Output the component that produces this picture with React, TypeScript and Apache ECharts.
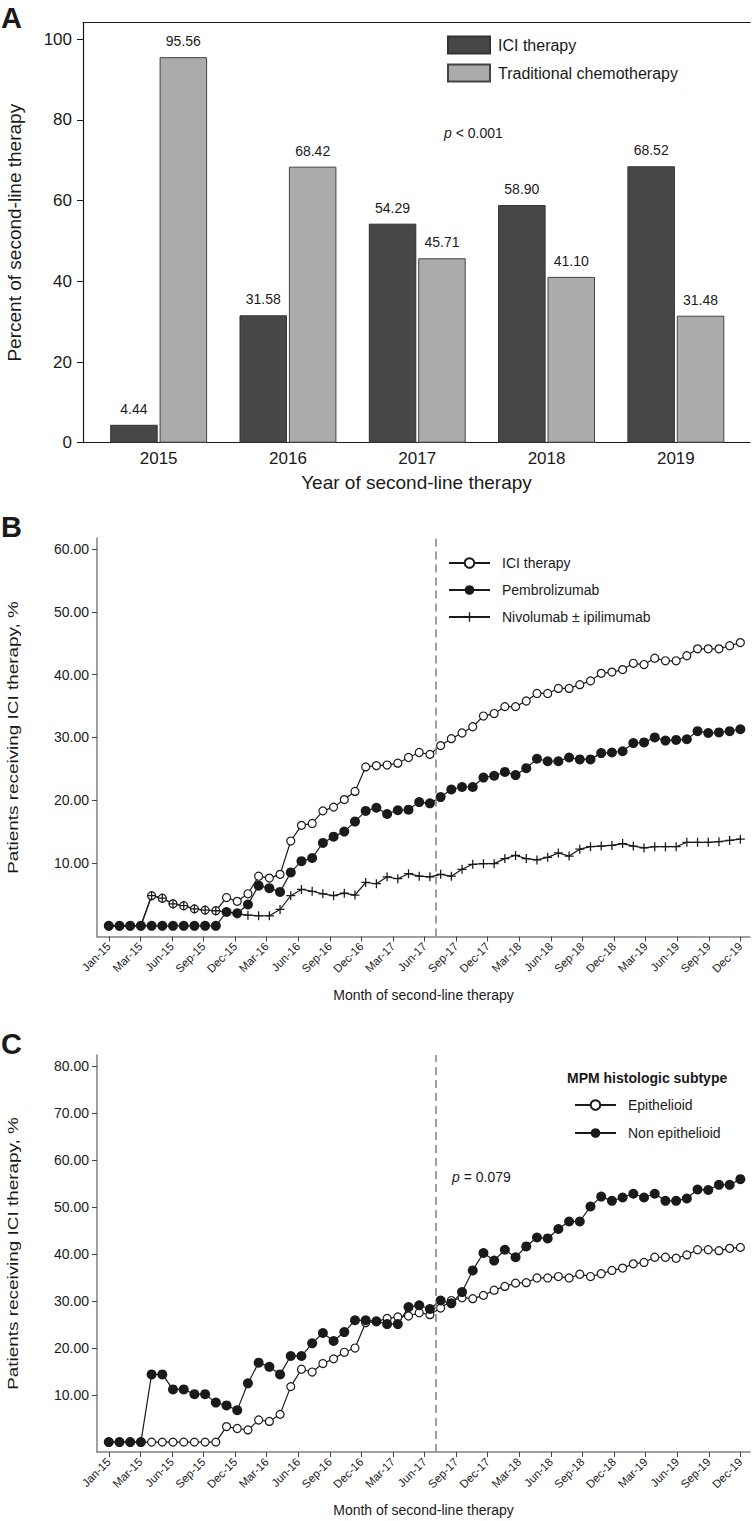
import React, { useEffect, useRef } from "react";
import * as echarts from "echarts";

// ---------- Panel A data ----------
const years = ["2015", "2016", "2017", "2018", "2019"];
const iciPct = [4.44, 31.58, 54.29, 58.9, 68.52];
const chemoPct = [95.56, 68.42, 45.71, 41.1, 31.48];
const yTicksA = [0, 20, 40, 60, 80, 100];

// ---------- Panels B / C: monthly values (60 months) ----------
const monthTickLabels = [
  "Jan-15", "Mar-15", "Jun-15", "Sep-15", "Dec-15", "Mar-16", "Jun-16", "Sep-16", "Dec-16",
  "Mar-17", "Jun-17", "Sep-17", "Dec-17", "Mar-18", "Jun-18", "Sep-18", "Dec-18", "Mar-19",
  "Jun-19", "Sep-19", "Dec-19",
];
const cutoffMonth = 30.5;

const bIci = [
  0, 0, 0, 0, 4.8, 4.4, 3.5, 3.2, 2.7, 2.5, 2.4, 4.5, 3.9, 5.1, 7.9, 7.6, 8.2, 13.5, 16.0, 16.3,
  18.3, 18.9, 20.1, 21.4, 25.3, 25.5, 25.6, 25.9, 26.8, 27.6, 27.3, 28.7, 29.8, 30.7, 31.7, 33.4,
  33.8, 34.9, 34.9, 35.8, 37.0, 37.0, 37.8, 37.8, 38.4, 39.0, 40.2, 40.4, 40.8, 41.8, 41.6, 42.6,
  42.2, 42.2, 43.0, 44.1, 44.1, 44.1, 44.6, 45.1,
];
const bPembro = [
  0, 0, 0, 0, 0, 0, 0, 0, 0, 0, 0, 2.2, 2.0, 3.4, 6.4, 6.0, 5.4, 8.5, 10.3, 10.8, 13.2, 14.2,
  15.0, 16.6, 18.3, 18.8, 17.8, 18.4, 18.5, 19.7, 19.5, 20.5, 21.7, 22.1, 22.1, 23.6, 23.9, 24.5,
  24.0, 25.1, 26.6, 26.2, 26.2, 26.8, 26.5, 26.5, 27.5, 27.6, 27.8, 29.1, 29.2, 30.0, 29.5, 29.6,
  29.7, 31.0, 30.7, 30.8, 31.0, 31.3,
];
const bNivo = [
  0, 0, 0, 0, 4.8, 4.4, 3.5, 3.2, 2.7, 2.5, 2.4, 2.2, 1.9, 1.7, 1.6, 1.6, 2.6, 4.8, 5.8, 5.5,
  5.1, 4.8, 5.2, 4.9, 6.9, 6.7, 7.8, 7.5, 8.3, 7.9, 7.8, 8.2, 7.9, 9.0, 9.8, 9.9, 9.9, 10.7, 11.2,
  10.7, 10.5, 10.9, 11.6, 11.1, 12.2, 12.6, 12.7, 12.8, 13.1, 12.7, 12.4, 12.6, 12.6, 12.6, 13.3,
  13.3, 13.3, 13.4, 13.6, 13.8,
];
const yTicksB = [10, 20, 30, 40, 50, 60];

const cEpi = [
  0, 0, 0, 0, 0, 0, 0, 0, 0, 0, 0, 3.3, 2.9, 2.6, 4.7, 4.4, 5.9, 11.8, 15.5, 14.9, 16.7, 17.7,
  19.1, 20.0, 25.4, 25.6, 26.3, 26.6, 26.8, 27.5, 27.1, 28.5, 30.1, 30.7, 30.5, 31.2, 32.3, 33.1,
  33.8, 33.9, 34.9, 34.9, 35.2, 34.9, 35.7, 35.2, 35.8, 36.5, 37.0, 37.9, 38.2, 39.3, 39.3, 39.1,
  39.8, 40.9, 40.9, 40.7, 41.2, 41.4,
];
const cNonEpi = [
  0, 0, 0, 0, 14.4, 14.4, 11.2, 11.2, 10.2, 10.2, 8.4, 7.8, 6.8, 12.5, 16.9, 16.0, 14.4, 18.3,
  18.3, 21.0, 23.2, 21.5, 23.4, 25.9, 25.9, 25.7, 25.1, 25.1, 28.7, 29.1, 28.3, 30.1, 29.5, 31.9,
  36.5, 40.2, 38.6, 40.9, 39.3, 41.6, 43.5, 43.3, 45.3, 46.9, 46.9, 50.1, 52.2, 51.3, 52.0, 52.8,
  52.0, 52.8, 51.3, 51.3, 51.8, 53.7, 53.6, 54.7, 54.7, 55.9,
];
const yTicksC = [10, 20, 30, 40, 50, 60, 70, 80];

const FONT = "Liberation Sans, Arial, sans-serif";
const INK = "#1a1a1a";
const AXIS_GRAY = "#808080";
const PLUS =
  "path://M4.3,0 H5.7 V4.3 H10 V5.7 H5.7 V10 H4.3 V5.7 H0 V4.3 H4.3 Z";

const N = bIci.length;
const L = monthTickLabels.length;
const monthTickPos = monthTickLabels.map((_, k) => (k * (N - 1)) / (L - 1));
const toXY = (arr: number[]) => arr.map((v, i) => [i, v]);

function monthAxis(gridIndex: number) {
  return {
    type: "value",
    gridIndex,
    min: -1.1,
    max: 59.9,
    axisLine: { show: true, onZero: false, lineStyle: { color: AXIS_GRAY, width: 1.5 } },
    axisTick: { show: true, length: 5, customValues: monthTickPos, lineStyle: { color: "#444", width: 1 } },
    axisLabel: {
      customValues: monthTickPos,
      rotate: 45,
      fontSize: 11.5,
      color: INK,
      fontFamily: FONT,
      margin: 8,
      formatter: (v: number) => monthTickLabels[Math.round((v * (L - 1)) / (N - 1))],
    },
    splitLine: { show: false },
  };
}

function pctAxis(gridIndex: number, min: number, max: number, ticks: number[]) {
  return {
    type: "value",
    gridIndex,
    min,
    max,
    axisLine: { show: true, onZero: false, lineStyle: { color: AXIS_GRAY, width: 1.5 } },
    axisTick: { show: true, length: 5, customValues: ticks, lineStyle: { color: "#444", width: 1 } },
    axisLabel: {
      customValues: ticks,
      fontSize: 14,
      color: INK,
      fontFamily: FONT,
      margin: 8,
      formatter: (v: number) => v.toFixed(2),
    },
    splitLine: { show: false },
  };
}

const lineBase = {
  type: "line",
  lineStyle: { color: INK, width: 1.2 },
  showAllSymbol: true,
  animation: false,
};
const openCircle = {
  symbol: "circle",
  symbolSize: 8,
  itemStyle: { color: "#fff", borderColor: INK, borderWidth: 1.2 },
};
const filledCircle = {
  symbol: "circle",
  symbolSize: 10,
  itemStyle: { color: INK, borderColor: INK, borderWidth: 0 },
};

export default function App() {
  const ref = useRef<HTMLDivElement>(null);

  useEffect(() => {
    if (!ref.current) return;
    const chart = echarts.init(ref.current, undefined, { renderer: "svg" });

    const txt = (
      text: string,
      x: number,
      y: number,
      size: number,
      opts: any = {}
    ) => ({
      type: "text",
      x,
      y,
      rotation: opts.rotation || 0,
      scaleX: opts.scaleX || 1,
      style: {
        text,
        fontSize: size,
        fontFamily: FONT,
        fontWeight: opts.bold ? "bold" : "normal",
        fill: INK,
        align: opts.align || "center",
        verticalAlign: "middle",
        rich: opts.rich,
      },
    });
    const italicRich = { i: { fontStyle: "italic", fontSize: 14, fontFamily: FONT, fill: INK } };

    const option: any = {
      animation: false,
      textStyle: { fontFamily: FONT },
      grid: [
        { left: 83, top: 22.7, width: 667, height: 420 },
        { left: 94, top: 22.7, width: 646.5, height: 420 },
        { left: 97, top: 538, width: 653, height: 398.5 },
        { left: 97, top: 1055, width: 653, height: 397 },
      ],
      xAxis: [
        {
          type: "value", gridIndex: 0, min: 0, max: 1, position: "bottom",
          axisLine: { show: true, lineStyle: { color: INK, width: 1.2 } },
          axisTick: { show: false }, axisLabel: { show: false }, splitLine: { show: false },
        },
        {
          type: "value", gridIndex: 0, min: 0, max: 1, position: "top",
          axisLine: { show: true, lineStyle: { color: INK, width: 1.2 } },
          axisTick: { show: false }, axisLabel: { show: false }, splitLine: { show: false },
        },
        {
          type: "category", gridIndex: 1, data: years,
          axisLine: { show: false }, axisTick: { show: false },
          axisLabel: { fontSize: 17, color: INK, fontFamily: FONT, margin: 7 },
        },
        monthAxis(2),
        monthAxis(3),
      ],
      yAxis: [
        {
          type: "value", gridIndex: 0, min: 0, max: 104.1,
          axisLine: { show: true, lineStyle: { color: INK, width: 1.2 } },
          axisTick: { show: true, length: 6, customValues: yTicksA, lineStyle: { color: INK } },
          axisLabel: { customValues: yTicksA, fontSize: 17, color: INK, fontFamily: FONT, margin: 11 },
          splitLine: { show: false },
        },
        { type: "value", gridIndex: 1, min: 0, max: 104.1, show: false },
        pctAxis(2, -1.7, 61.75, yTicksB),
        pctAxis(3, -2.1, 82.3, yTicksC),
      ],
      legend: [
        {
          data: ["ICI therapy", "Traditional chemotherapy"],
          orient: "vertical",
          left: 447,
          top: 35.5,
          padding: 0,
          itemWidth: 42,
          itemHeight: 17,
          itemGap: 9,
          icon: "rect",
          textStyle: { fontSize: 16, color: INK, fontFamily: FONT, padding: [0, 0, 0, 3] },
          selectedMode: false,
        },
        {
          data: ["B:ICI therapy", "B:Pembrolizumab", "B:Nivolumab ± ipilimumab"],
          orient: "vertical",
          left: 448,
          top: 556,
          padding: 0,
          itemWidth: 41,
          itemHeight: 12,
          itemGap: 13,
          formatter: (n: string) => n.replace(/^[A-Z]:/, ""),
          textStyle: { fontSize: 14, color: INK, fontFamily: FONT, padding: [0, 0, 0, 7] },
          selectedMode: false,
        },
        {
          data: ["C:Epithelioid", "C:Non epithelioid"],
          orient: "vertical",
          left: 574,
          top: 1098,
          padding: 0,
          itemWidth: 41,
          itemHeight: 12,
          itemGap: 14,
          formatter: (n: string) => n.replace(/^[A-Z]:/, ""),
          textStyle: { fontSize: 14, color: INK, fontFamily: FONT, padding: [0, 0, 0, 7] },
          selectedMode: false,
        },
      ],
      series: [
        {
          name: "ICI therapy",
          type: "bar",
          xAxisIndex: 2,
          yAxisIndex: 1,
          data: iciPct,
          barWidth: 47.5,
          barGap: "4%",
          itemStyle: { color: "#474747", borderColor: "#333", borderWidth: 1 },
          label: {
            show: true, position: "top", distance: 9, fontSize: 14, color: INK, fontFamily: FONT,
            formatter: (p: any) => Number(p.value).toFixed(2),
          },
        },
        {
          name: "Traditional chemotherapy",
          type: "bar",
          xAxisIndex: 2,
          yAxisIndex: 1,
          data: chemoPct,
          barWidth: 47.5,
          barGap: "4%",
          itemStyle: { color: "#ababab", borderColor: "#444", borderWidth: 1 },
          label: {
            show: true, position: "top", distance: 9, fontSize: 14, color: INK, fontFamily: FONT,
            formatter: (p: any) => Number(p.value).toFixed(2),
          },
        },
        {
          ...lineBase, ...openCircle,
          name: "B:ICI therapy", xAxisIndex: 3, yAxisIndex: 2, data: toXY(bIci),
          markLine: {
            silent: true, symbol: "none", label: { show: false },
            lineStyle: { color: AXIS_GRAY, type: [8, 5], width: 1.5 },
            data: [{ xAxis: cutoffMonth }],
          },
        },
        { ...lineBase, ...filledCircle, name: "B:Pembrolizumab", xAxisIndex: 3, yAxisIndex: 2, data: toXY(bPembro) },
        {
          ...lineBase, symbol: PLUS, symbolSize: 9, itemStyle: { color: INK },
          name: "B:Nivolumab ± ipilimumab", xAxisIndex: 3, yAxisIndex: 2, data: toXY(bNivo),
        },
        {
          ...lineBase, ...openCircle,
          name: "C:Epithelioid", xAxisIndex: 4, yAxisIndex: 3, data: toXY(cEpi),
          markLine: {
            silent: true, symbol: "none", label: { show: false },
            lineStyle: { color: AXIS_GRAY, type: [8, 5], width: 1.5 },
            data: [{ xAxis: cutoffMonth }],
          },
        },
        { ...lineBase, ...filledCircle, name: "C:Non epithelioid", xAxisIndex: 4, yAxisIndex: 3, data: toXY(cNonEpi) },
      ],
      graphic: [
        txt("A", 1, 18, 29, { bold: true, align: "left" }),
        txt("B", 1, 527, 29, { bold: true, align: "left" }),
        txt("C", 1, 1044, 29, { bold: true, align: "left" }),
        txt("Percent of second-line therapy", 14, 232.7, 19, { rotation: Math.PI / 2 }),
        txt("Year of second-line therapy", 416.5, 482, 19),
        txt("{i|p} < 0.001", 444, 133, 14, { align: "left", rich: italicRich }),
        txt("Patients receiving ICI therapy, %", 13, 737.5, 14, { rotation: Math.PI / 2, scaleX: 1.35 }),
        txt("Month of second-line therapy", 423.5, 995, 14),
        txt("Patients receiving ICI therapy, %", 13, 1253.5, 14, { rotation: Math.PI / 2, scaleX: 1.35 }),
        txt("Month of second-line therapy", 423.5, 1510, 14),
        txt("{i|p} = 0.079", 452, 1177, 14, { align: "left", rich: italicRich }),
        txt("MPM histologic subtype", 567, 1078, 14, { bold: true, align: "left" }),
      ],
    };

    chart.setOption(option);
    return () => chart.dispose();
  }, []);

  return (
    <div
      ref={ref}
      style={{ position: "absolute", left: 0, top: 0, width: 752, height: 1521, background: "#fff" }}
    />
  );
}
